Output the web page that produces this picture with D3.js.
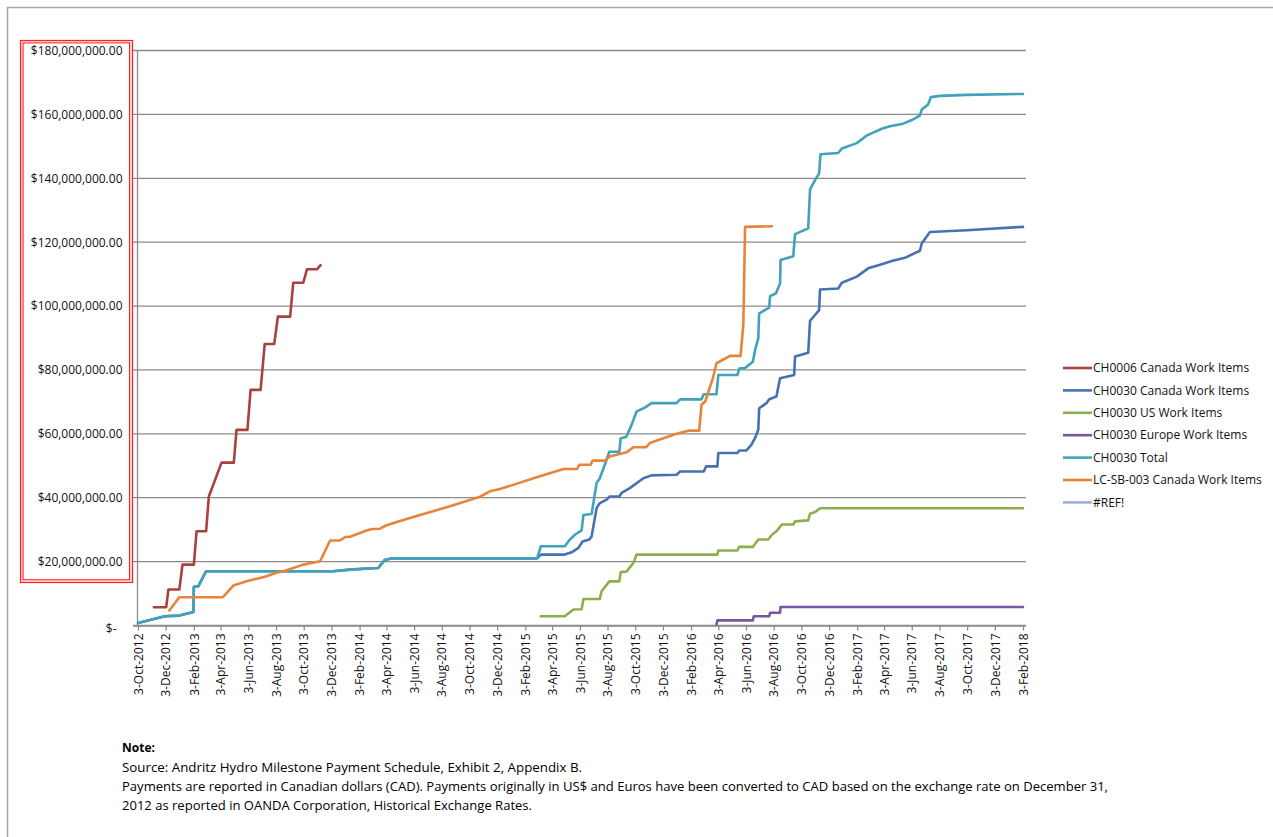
<!DOCTYPE html>
<html><head><meta charset="utf-8">
<script src="https://cdn.jsdelivr.net/npm/d3@7"></script>
<style>body{margin:0;background:#fff}svg{display:block}text{font-family:"Open Sans",sans-serif}</style>
</head><body><svg id="c" width="1273" height="837"></svg>
<script>
// ---------- DATA ----------
const xTickLabels = ["3-Oct-2012","3-Dec-2012","3-Feb-2013","3-Apr-2013","3-Jun-2013","3-Aug-2013","3-Oct-2013","3-Dec-2013",
"3-Feb-2014","3-Apr-2014","3-Jun-2014","3-Aug-2014","3-Oct-2014","3-Dec-2014","3-Feb-2015","3-Apr-2015","3-Jun-2015",
"3-Aug-2015","3-Oct-2015","3-Dec-2015","3-Feb-2016","3-Apr-2016","3-Jun-2016","3-Aug-2016","3-Oct-2016","3-Dec-2016",
"3-Feb-2017","3-Apr-2017","3-Jun-2017","3-Aug-2017","3-Oct-2017","3-Dec-2017","3-Feb-2018"];
const yTicksMillions = [0,20,40,60,80,100,120,140,160,180];

const seriesNames = ["CH0006 Canada Work Items","CH0030 Canada Work Items","CH0030 US Work Items",
  "CH0030 Europe Work Items","CH0030 Total","LC-SB-003 Canada Work Items","#REF!"];
const seriesColors = ["#A9423F","#4672B2","#8CAF4C","#7558A0","#41A2B9","#E8843A","#98B3D8"];

// values in millions of CAD
const ch0006Dates = ["2012-11-07","2012-12-04","2012-12-09","2013-01-02","2013-01-09","2013-02-03","2013-02-09","2013-03-02",
  "2013-03-08","2013-04-05","2013-05-02","2013-05-08","2013-06-01","2013-06-08","2013-06-30","2013-07-09","2013-07-30",
  "2013-08-07","2013-09-03","2013-09-10","2013-10-02","2013-10-10","2013-11-01","2013-11-09"];
const ch0006Values = [5.7,5.7,11.25,11.25,19.06,19.06,29.5,29.5,40.4,51.0,51.0,61.25,61.25,73.75,73.75,88.1,88.1,
  96.7,96.7,107.3,107.3,111.5,111.5,112.8];

const ch0030CanDates = ["2012-10-03","2012-12-01","2013-01-02","2013-02-02","2013-02-03","2013-02-13","2013-03-02","2013-12-06",
  "2014-01-13","2014-03-02","2014-03-16","2014-03-31","2014-04-15","2015-03-01","2015-03-09","2015-05-01","2015-05-16",
  "2015-05-31","2015-06-09","2015-06-24","2015-06-29","2015-07-10","2015-07-17","2015-08-01","2015-08-08","2015-08-29",
  "2015-09-03","2015-09-21","2015-10-21","2015-11-08","2016-01-02","2016-01-10","2016-03-02","2016-03-07","2016-04-01",
  "2016-04-03","2016-05-15","2016-05-19","2016-06-04","2016-06-15","2016-06-23","2016-06-30","2016-07-02","2016-07-18",
  "2016-07-24","2016-08-09","2016-08-17","2016-09-17","2016-09-19","2016-10-18","2016-10-22","2016-11-02","2016-11-11",
  "2016-11-13","2016-12-23","2016-12-31","2017-02-02","2017-02-27","2017-03-29","2017-04-20","2017-05-19","2017-06-21",
  "2017-06-25","2017-07-13","2017-10-02","2018-02-03"];
const ch0030CanValues = [0.8,2.9,3.1,4.2,12.1,12.3,17.0,17.0,17.5,17.9,18.0,20.6,21.0,21.0,22.2,22.2,22.9,
  24.3,26.3,26.9,27.9,36.8,38.3,39.4,40.4,40.4,41.5,43.0,46.1,47.0,47.2,48.2,48.2,49.8,49.8,
  54.0,54.0,54.8,54.8,56.6,58.7,61.25,68.0,69.6,70.8,71.7,77.4,78.4,84.2,85.4,95.4,97.2,98.75,
  105.2,105.5,107.3,109.2,111.8,113.1,114.1,115.1,117.3,119.6,123.2,123.75,124.8];

const ch0030UsDates = ["2015-03-09","2015-05-01","2015-05-20","2015-06-07","2015-06-11","2015-07-17","2015-07-21","2015-08-07",
  "2015-08-29","2015-09-01","2015-09-14","2015-09-29","2015-10-06","2016-04-01","2016-04-03","2016-05-15","2016-05-19",
  "2016-06-18","2016-06-30","2016-07-22","2016-07-30","2016-08-09","2016-08-21","2016-09-15","2016-09-19","2016-10-18",
  "2016-10-22","2016-11-02","2016-11-13","2018-02-03"];
const ch0030UsValues = [2.9,2.9,5.0,5.1,8.3,8.3,10.7,13.8,13.8,16.7,16.9,19.6,22.2,22.2,23.5,23.5,24.6,
  24.6,26.9,26.9,28.4,29.5,31.6,31.6,32.6,32.9,35.0,35.5,36.7,36.7];

const ch0030EuDates = ["2016-03-30","2016-04-01","2016-06-18","2016-06-20","2016-07-24","2016-07-26","2016-08-17","2016-08-18","2018-02-03"];
const ch0030EuValues = [0.3,1.6,1.6,2.9,2.9,4.0,4.0,5.8,5.8];

const ch0030TotDates = ["2012-10-03","2012-12-01","2013-01-02","2013-02-02","2013-02-03","2013-02-13","2013-03-02","2013-12-06",
  "2014-01-13","2014-03-02","2014-03-16","2014-03-31","2014-04-15","2015-03-01","2015-03-09","2015-05-01","2015-05-12",
  "2015-05-23","2015-06-07","2015-06-11","2015-06-29","2015-07-10","2015-07-17","2015-08-01","2015-08-07","2015-08-29",
  "2015-09-01","2015-09-13","2015-09-25","2015-10-06","2015-10-25","2015-11-08","2016-01-02","2016-01-10","2016-02-26",
  "2016-03-02","2016-03-30","2016-04-03","2016-05-15","2016-05-19","2016-06-01","2016-06-18","2016-06-23","2016-06-30",
  "2016-07-02","2016-07-24","2016-07-26","2016-08-08","2016-08-17","2016-08-18","2016-09-15","2016-09-19","2016-10-18",
  "2016-10-22","2016-11-02","2016-11-11","2016-11-14","2016-12-23","2016-12-31","2017-02-02","2017-02-24","2017-03-10",
  "2017-03-29","2017-04-16","2017-05-15","2017-06-06","2017-06-21","2017-06-25","2017-07-09","2017-07-15","2017-08-04",
  "2017-10-02","2018-02-03"];
const ch0030TotValues = [0.8,2.9,3.1,4.2,12.1,12.3,17.0,17.0,17.5,17.9,18.0,20.6,21.0,21.0,24.8,24.8,26.9,
  28.4,29.8,34.6,34.9,44.6,46.1,51.9,54.4,54.4,58.6,59.0,62.8,67.0,68.3,69.6,69.6,70.8,70.8,
  72.4,72.4,78.4,78.4,80.4,80.6,82.6,86.25,89.9,97.7,99.5,103.1,104.0,107.1,114.4,115.6,122.5,124.3,
  136.5,139.4,141.5,147.5,147.9,149.3,151.0,153.4,154.3,155.5,156.3,157.1,158.4,159.7,161.5,163.1,165.4,165.8,
  166.1,166.4];

const lcsbDates = ["2012-12-11","2013-01-02","2013-04-08","2013-05-01","2013-05-30","2013-06-29","2013-07-13","2013-08-04",
  "2013-08-26","2013-10-02","2013-11-08","2013-11-30","2013-12-22","2014-01-02","2014-01-13","2014-01-26","2014-02-15",
  "2014-03-02","2014-03-20","2014-04-02","2014-04-24","2014-06-16","2014-08-21","2014-10-26","2014-11-17","2014-12-09",
  "2015-03-07","2015-04-28","2015-05-28","2015-06-02","2015-06-27","2015-07-01","2015-07-28","2015-08-08","2015-09-14",
  "2015-09-29","2015-10-27","2015-11-04","2016-01-02","2016-01-28","2016-02-21","2016-02-26","2016-03-05","2016-03-22",
  "2016-03-30","2016-04-29","2016-05-22","2016-05-28","2016-06-01","2016-07-30"];
const lcsbValues = [4.7,8.85,8.85,12.5,13.85,14.9,15.4,16.5,17.3,19.06,20.1,26.6,26.6,27.7,27.8,28.5,29.6,
  30.2,30.3,31.3,32.3,34.6,37.3,40.3,42.0,42.7,46.7,49.0,49.0,50.3,50.3,51.6,51.6,52.9,54.2,
  55.8,55.8,57.1,60.0,61.0,61.0,69.1,70.1,77.4,82.1,84.4,84.4,94.1,124.8,125.0];

const noteLines = ["Source: Andritz Hydro Milestone Payment Schedule, Exhibit 2, Appendix B.",
  "Payments are reported in Canadian dollars (CAD). Payments originally in US$ and Euros have been converted to CAD based on the exchange rate on December 31,",
  "2012 as reported in OANDA Corporation, Historical Exchange Rates."];

// ---------- DRAW ----------
const svg = d3.select("#c");
svg.append("rect").attr("width",1273).attr("height",837).attr("fill","#fff");
svg.append("path").attr("d","M7.5,837V7.5H1273").attr("fill","none").attr("stroke","#a6a6a6").attr("stroke-width",1.5);

const parse = d3.timeParse("%Y-%m-%d");
const parseTick = d3.timeParse("%-d-%b-%Y");
const tickDates = xTickLabels.map(parseTick);
const L = 137.5, R = 1026, T = 50.5, B = 625.5;
const x = d3.scaleTime().domain([tickDates[0], tickDates[tickDates.length-1]]).range([138, 1023]);
const y = d3.scaleLinear().domain([0, 180e6]).range([B, T]);

// gridlines
svg.append("g").selectAll("line").data(yTicksMillions).join("line")
  .attr("x1",133).attr("x2",R).attr("y1",d=>y(d*1e6)).attr("y2",d=>y(d*1e6))
  .attr("stroke","#8c8c8c").attr("stroke-width",1.3);

// y axis
const fmt = d3.format("$,.2f");
const yAxis = d3.axisLeft(y).tickValues(yTicksMillions.map(d=>d*1e6))
  .tickFormat(d=> d===0 ? "$-" : fmt(d)).tickSize(0).tickPadding(15);
const gy = svg.append("g").attr("transform",`translate(${L},0)`).call(yAxis);
gy.select(".domain").remove();
gy.selectAll("text").attr("font-size",12).attr("fill","#111").attr("font-family","Open Sans");
gy.selectAll(".tick").filter(d=>d===0).select("text").attr("x",-21).attr("dy","0.55em");
svg.append("line").attr("x1",L).attr("x2",L).attr("y1",T).attr("y2",B+1).attr("stroke","#8c8c8c").attr("stroke-width",1.3);

// x axis
const xAxis = d3.axisBottom(x).tickValues(tickDates).tickFormat((d,i)=>xTickLabels[i]).tickSizeInner(5).tickSizeOuter(0);
const gx = svg.append("g").attr("transform",`translate(0,${B})`).call(xAxis);
gx.select(".domain").attr("d",`M${133},0.5H${R}`).attr("stroke","#8c8c8c").attr("stroke-width",1.3);
gx.selectAll(".tick line").attr("stroke","#8c8c8c").attr("stroke-width",1.3);
gx.selectAll("text").attr("font-size",12).attr("fill","#111").attr("font-family","Open Sans")
  .attr("transform","rotate(-90)").attr("text-anchor","end").attr("x",-8).attr("y",0).attr("dy","0.35em");

// lines
const series = [
  [ch0006Dates, ch0006Values],
  [ch0030CanDates, ch0030CanValues],
  [ch0030UsDates, ch0030UsValues],
  [ch0030EuDates, ch0030EuValues],
  [ch0030TotDates, ch0030TotValues],
  [lcsbDates, lcsbValues],
  [[], []]
];
const line = d3.line().x(d=>x(d[0])).y(d=>y(d[1]*1e6));
series.forEach((s,i)=>{
  const pts = s[0].map((dt,j)=>[parse(dt), s[1][j]]);
  if (!pts.length) return;
  svg.append("path").datum(pts).attr("d",line).attr("fill","none")
    .attr("stroke",seriesColors[i]).attr("stroke-width",2.6).attr("stroke-linejoin","round").attr("stroke-linecap","round");
});

// legend
const lg = svg.append("g");
seriesNames.forEach((n,i)=>{
  const yy = 368 + i*22.4;
  lg.append("line").attr("x1",1063).attr("x2",1092).attr("y1",yy).attr("y2",yy)
    .attr("stroke",seriesColors[i]).attr("stroke-width",2.6);
  lg.append("text").attr("x",1093).attr("y",yy).attr("dy","0.35em").attr("font-size",12).attr("fill","#111").text(n);
});

// red selection box
svg.append("rect").attr("x",20.5).attr("y",40.5).attr("width",112).attr("height",542).attr("fill","none").attr("stroke","#ff2020").attr("stroke-width",1.2);
svg.append("rect").attr("x",23).attr("y",42.8).attr("width",106.6).attr("height",537).attr("fill","none").attr("stroke","#ff2020").attr("stroke-width",1.2);
svg.append("rect").attr("x",21.7).attr("y",41.7).attr("width",109.4).attr("height",539.5).attr("fill","none").attr("stroke","#ffc0c0").attr("stroke-width",1.2);

// note
svg.append("text").attr("x",122).attr("y",752).attr("font-size",12).attr("font-weight","bold").attr("fill","#000").text("Note:");
const noteW = [460, 986, 410];
noteLines.forEach((t,i)=>{
  svg.append("text").attr("x",122).attr("y",772 + i*18.8).attr("font-size",12).attr("fill","#000")
    .attr("textLength",noteW[i]).attr("lengthAdjust","spacingAndGlyphs").text(t);
});
</script></body></html>
